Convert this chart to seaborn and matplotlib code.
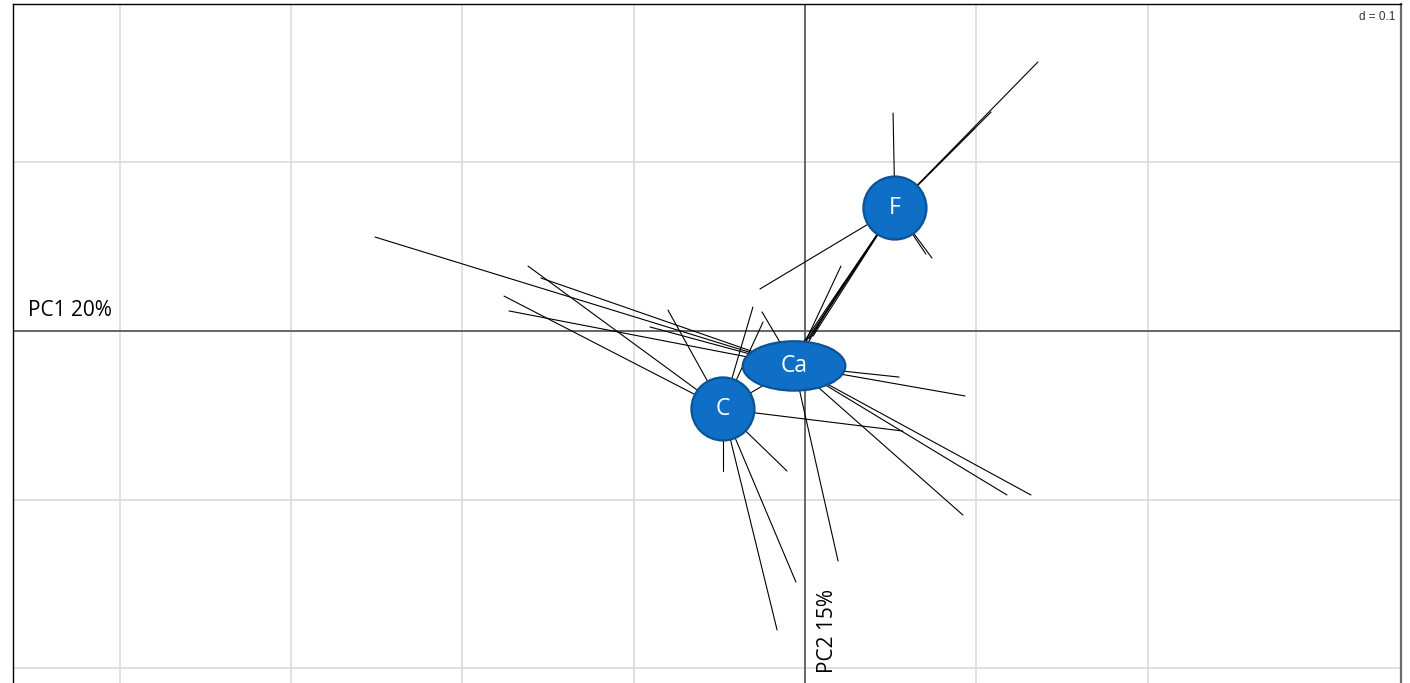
import matplotlib
matplotlib.use("Agg")
import matplotlib.pyplot as plt
from matplotlib.patches import Ellipse
import seaborn as sns
import pandas as pd

# ---- data (grid step d = 0.1) ----
groups = ["F", "C", "Ca"]
centers_x = [0.0525, -0.0479, -0.0064]
centers_y = [0.0729, -0.0462, -0.0207]

F_x = [0.0514, 0.1360, 0.1086, 0.0992, -0.0263, 0.0741, 0.0706, -0.0023, 0.0000, 0.0023, 0.0047]
F_y = [0.1292, 0.1595, 0.1298, 0.1203, 0.0249, 0.0433, 0.0456, -0.0089, -0.0071, -0.0047, -0.0030]

C_x = [-0.1617, -0.1757, -0.0800, -0.0304, -0.0245, 0.0572, -0.0479, -0.0105, -0.0053, -0.0163, -0.0088]
C_y = [0.0385, 0.0207, 0.0124, 0.0142, 0.0053, -0.0593, -0.0830, -0.0830, -0.1488, -0.1772, -0.0231]

Ca_x = [-0.2510, -0.1541, -0.1728, -0.0905, -0.0251, 0.0549, 0.0934, 0.1179, 0.1319, 0.0922, 0.0193, 0.0210, 0.0228]
Ca_y = [0.0557, 0.0314, 0.0119, 0.0024, 0.0113, -0.0273, -0.0385, -0.0972, -0.0972, -0.1091, -0.1363, 0.0385, 0.0285]

grid_x = [-0.4, -0.3, -0.2, -0.1, 0.1, 0.2]
grid_y = [-0.2, -0.1, 0.1]

axis1_label = "PC1 20%"
axis2_label = "PC2 15%"
scale_label = "d = 0.1"

# ---- build segments (center -> point) ----
pts = {"F": (F_x, F_y), "C": (C_x, C_y), "Ca": (Ca_x, Ca_y)}
rows = []
for g, cx, cy in zip(groups, centers_x, centers_y):
    xs, ys = pts[g]
    for i, (px, py) in enumerate(zip(xs, ys)):
        seg = f"{g}{i}"
        rows.append(dict(seg=seg, x=cx, y=cy))
        rows.append(dict(seg=seg, x=px, y=py))
df = pd.DataFrame(rows)

sns.set_theme(style="white")
plt.rcParams["font.family"] = ["Open Sans", "DejaVu Sans"]

W, H = 1410, 683
fig = plt.figure(figsize=(W / 100, H / 100), dpi=100)
ax = fig.add_axes([13 / W, 0, 1388 / W, 679 / H])

sns.lineplot(data=df, x="x", y="y", units="seg", estimator=None, sort=False,
             color="black", lw=0.8, ax=ax, legend=False, zorder=3)

ax.set_xlim(-0.46235, 0.34793)
ax.set_ylim(-0.20865, 0.19384)
ax.set_xticks(grid_x)
ax.set_yticks(grid_y)
ax.grid(True, color="#D9D9D9", lw=1.1, zorder=0)
ax.set_axisbelow(True)
ax.tick_params(length=0, labelbottom=False, labelleft=False)
ax.set_xlabel("")
ax.set_ylabel("")

ax.axhline(0, color="#595959", lw=1.3, zorder=2)
ax.axvline(0, color="#595959", lw=1.3, zorder=2)

for side in ["top", "left"]:
    ax.spines[side].set_color("black")
    ax.spines[side].set_linewidth(1.0)
ax.spines["right"].set_color("#6b6b6b")
ax.spines["right"].set_linewidth(1.6)
ax.spines["bottom"].set_visible(False)

# ---- group markers ----
fill = "#0F6FC6"
edge = "#0B5394"
px_x = 1 / 1713.0
px_y = 1 / 1687.0
sizes = {"F": (31.5, 31.5), "C": (31.5, 31.5), "Ca": (51.3, 24.7)}
for g, cx, cy in zip(groups, centers_x, centers_y):
    rx, ry = sizes[g]
    e = Ellipse((cx, cy), 2 * rx * px_x, 2 * ry * px_y, facecolor=fill,
                edgecolor=edge, lw=1.6, zorder=5)
    ax.add_patch(e)
    ax.text(cx, cy, g, color="white", fontsize=16.5, ha="center", va="center",
            zorder=6)

ax.text(-0.4536, 0.0124, axis1_label, fontsize=15, ha="left", va="center",
        color="black", zorder=6)
ax.text(0.0134, -0.2027, axis2_label, fontsize=15, ha="center", va="bottom",
        rotation=90, color="black", zorder=6)
ax.text(0.9957, 0.9897, scale_label, transform=ax.transAxes, fontsize=8.5,
        ha="right", va="top", color="#333333",
        family=["Liberation Sans", "DejaVu Sans"], zorder=6)

fig.savefig("out.png", dpi=100)
